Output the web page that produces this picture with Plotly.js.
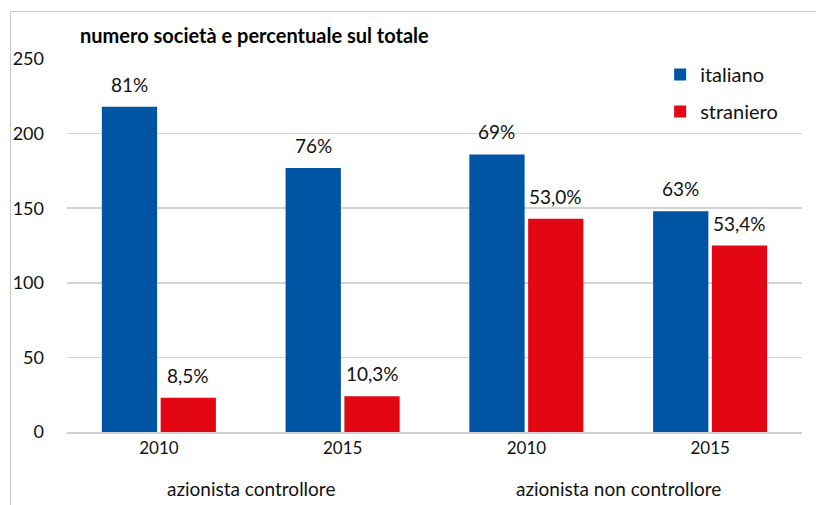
<!DOCTYPE html>
<html>
<head>
<meta charset="utf-8">
<script src="https://cdn.plot.ly/plotly-3.0.1.min.js"></script>
<style>
  html, body { margin: 0; padding: 0; background: #fff; }
  #wrap { position: relative; width: 816px; height: 505px; overflow: hidden; }
  #chart { width: 816px; height: 505px; }
  #frame { position: absolute; left: 10px; top: 11px; width: 900px; height: 600px;
           border-left: 1px solid #c8c8c8; border-top: 1px solid #c8c8c8; pointer-events: none; }
</style>
</head>
<body>
<div id="wrap"><div id="chart"></div><div id="frame"></div></div>
<script>
// ---- data ----
const categories = ["ctrl-2010", "ctrl-2015", "nonctrl-2010", "nonctrl-2015"];
const yearLabels = ["2010", "2015", "2010", "2015"];
const groupLabels = ["azionista controllore", "azionista non controllore"];
const groupCenters = [0.5, 2.5];
const seriesNames = ["italiano", "straniero"];
const italiano = [218, 177, 186, 148];
const straniero = [23, 24, 143, 125];
const italianoPct = ["81%", "76%", "69%", "63%"];
const stranieroPct = ["8,5%", "10,3%", "53,0%", "53,4%"];
const yTicks = [0, 50, 100, 150, 200, 250];
const chartTitle = "numero società e percentuale sul totale";

// ---- style ----
const FONT = "Lato, 'Open Sans', sans-serif";
const BLUE = "#0054a4";
const RED = "#e30613";
const BARGAP = 0.36;
const GROUPGAP = 0.06;
const slot = (1 - BARGAP) / 2;

const traces = [
  { type: "bar", name: seriesNames[0], x: categories, y: italiano, legendgroup: "a",
    marker: { color: BLUE }, hoverinfo: "none" },
  { type: "bar", name: seriesNames[1], x: categories, y: straniero, legendgroup: "b",
    marker: { color: RED }, hoverinfo: "none" }
];

const annotations = [];
categories.forEach((c, i) => {
  annotations.push({ x: i - slot / 2, y: italiano[i], xref: "x", yref: "y",
    text: italianoPct[i], showarrow: false, yanchor: "bottom", yshift: 9,
    font: { family: FONT, size: 19, color: "#111" } });
  annotations.push({ x: i + slot / 2, y: straniero[i], xref: "x", yref: "y",
    text: stranieroPct[i], showarrow: false, yanchor: "bottom", yshift: 9,
    font: { family: FONT, size: 19, color: "#111" } });
});
groupLabels.forEach((g, k) => {
  annotations.push({ x: groupCenters[k], y: 0, xref: "x", yref: "paper",
    text: g, showarrow: false, yanchor: "middle", yshift: -56,
    font: { family: FONT, size: 19, color: "#111" } });
});

const layout = {
  width: 816, height: 505,
  margin: { l: 67, r: 14, t: 59, b: 73 },
  paper_bgcolor: "#fff", plot_bgcolor: "#fff",
  font: { family: FONT, size: 18, color: "#111" },
  title: { text: "<b>" + chartTitle + "</b>", xref: "container", x: 80 / 816, xanchor: "left",
           yref: "container", y: 1 - 36 / 505, yanchor: "middle",
           font: { family: FONT, size: 20, color: "#000" } },
  barmode: "group", bargap: BARGAP, bargroupgap: GROUPGAP,
  showlegend: true,
  legend: { x: 0.807, y: 1 + 4 / 373, xanchor: "left", yanchor: "top",
            bgcolor: "rgba(0,0,0,0)", font: { family: FONT, size: 20, color: "#111" },
            traceorder: "grouped", tracegroupgap: 8, itemwidth: 30 },
  xaxis: { type: "category", tickmode: "array", tickvals: categories, ticktext: yearLabels,
           showgrid: false, showline: true, linecolor: "#d0d0d0", linewidth: 1.5,
           ticks: "", ticklen: 0, tickfont: { family: FONT, size: 17, color: "#111" },
           fixedrange: true },
  yaxis: { range: [0, 250], tickmode: "array", tickvals: yTicks, showgrid: true,
           gridcolor: "#d4d4d4", gridwidth: 1.5, zeroline: false, showline: false,
           ticks: "", tickfont: { family: FONT, size: 18, color: "#111" }, ticklabelstandoff: 22,
           fixedrange: true },
  annotations: annotations
};

Plotly.newPlot("chart", traces, layout, { displayModeBar: false, staticPlot: true });
</script>
</body>
</html>
